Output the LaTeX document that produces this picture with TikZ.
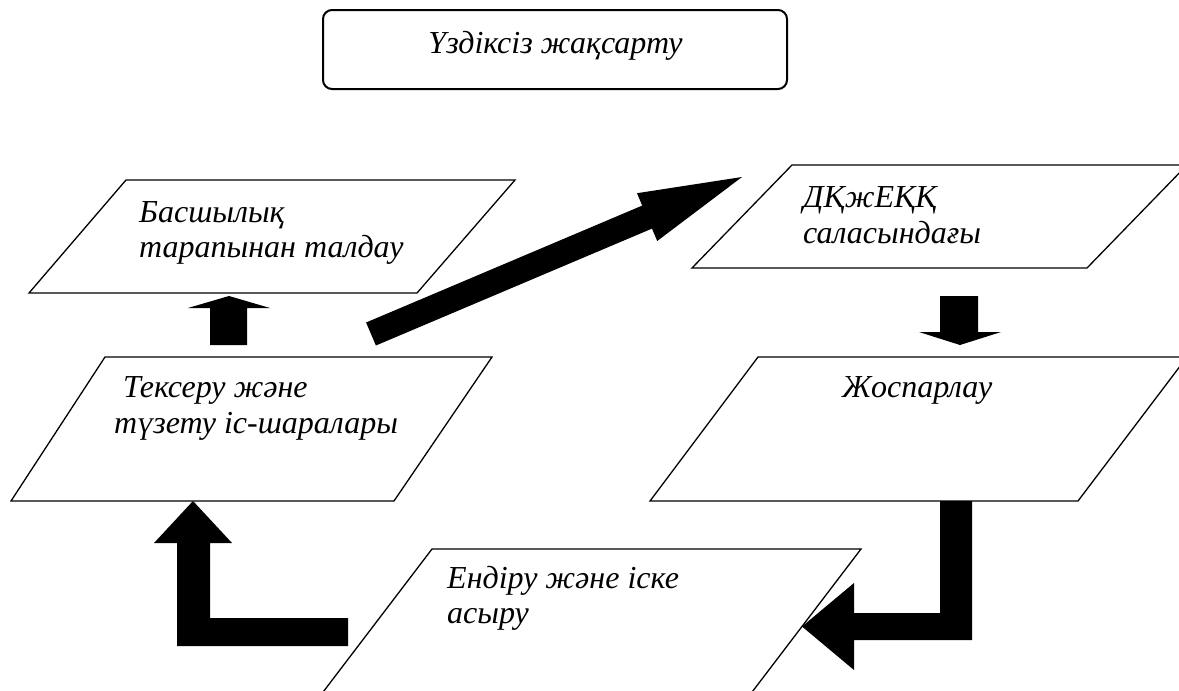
\documentclass[tikz,border=0pt]{standalone}
\usepackage{fontspec}
\setmainfont{Liberation Serif}[ItalicFont={Liberation Serif Italic}]
\begin{document}
\begin{tikzpicture}[x=1pt,y=-1pt,
  frame/.style={draw=black,line width=1.3pt,line join=miter},
  lbl/.style={anchor=base west,inner sep=0pt,font=\fontsize{32}{35}\selectfont\itshape},
  blockarrow/.style={fill=black,draw=none}]
\useasboundingbox (0,0) rectangle (1179,691);
\clip (0,0) rectangle (1179,691);
% top rounded box
\node[draw=black,line width=2pt,rounded corners=9pt,minimum width=464pt,minimum height=79pt,inner sep=0pt] (top) at (555,49.5) {};
\node[lbl,anchor=base] (toptext) at (555.5,53) {Үздіксіз жақсарту};
% box 1
\draw[frame] (126,180) -- (515,180) -- (417,293) -- (29,293) -- cycle;
\node[lbl] (b1a) at (139,222) {Басшылық};
\node[lbl] (b1b) at (139,257) {тарапынан талдау};
% box 2
\draw[frame] (105,357) -- (492,357) -- (394,501) -- (11,501) -- cycle;
\node[lbl] (b2a) at (123,397) {Тексеру және};
\node[lbl] (b2b) at (114,433) {түзету іс-шаралары};
% box 3
\draw[frame] (792,165) -- (1187,165) -- (1087,268) -- (692,268) -- cycle;
\node[lbl] (b3a) at (803,207) {ДҚжЕҚҚ};
\node[lbl] (b3b) at (803,243) {саласындағы};
% box 4
\draw[frame] (758,357) -- (1187,357) -- (1078,501) -- (650,501) -- cycle;
\node[lbl] (b4a) at (842,397) {Жоспарлау};
% box 5
\draw[frame] (432,549) -- (861,549) -- (746,700) -- (317,700) -- cycle;
\node[lbl] (b5a) at (447,588) {Ендіру және іске};
\node[lbl] (b5b) at (447,623) {асыру};
% up arrow (Тексеру -> Басшылық)
\fill[blockarrow] (210,345) -- (247,345) -- (247,308) -- (270,308) -- (229,296) -- (188,308) -- (210,308) -- cycle;
% diagonal arrow (Тексеру -> ДҚжЕҚҚ)
\fill[blockarrow] (375.9,345.5) -- (652,228.6) -- (657.2,241.0) -- (742,177) -- (637.0,193.2) -- (642.2,205.6) -- (366.1,322.5) -- cycle;
% down arrow (ДҚжЕҚҚ -> Жоспарлау)
\fill[blockarrow] (940,296) -- (978,296) -- (978,332) -- (1001,332) -- (960,345) -- (919,332) -- (940,332) -- cycle;
% elbow arrow (Жоспарлау -> Ендіру)
\fill[blockarrow] (940,501) -- (972,501) -- (972,640) -- (854,640) -- (854,670) -- (802,626.5) -- (854,583) -- (854,613) -- (940,613) -- cycle;
% elbow arrow (Ендіру -> Тексеру)
\fill[blockarrow] (348,618) -- (348,646) -- (177,646) -- (177,543) -- (154,543) -- (193,501) -- (232,543) -- (210,543) -- (210,618) -- cycle;
\end{tikzpicture}
\end{document}
